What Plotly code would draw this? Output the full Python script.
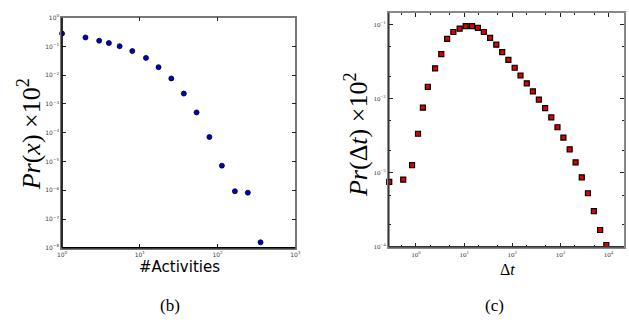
import plotly.graph_objects as go

# Panel (b): activity distribution
act_x = [1, 2.0, 3.0, 4.0, 5.5, 8.0, 12.0, 17.4, 25.4, 36.8, 53.7, 78.5, 113.7, 167, 245, 357]
act_y = [0.28, 0.205, 0.158, 0.131, 0.102, 0.069, 0.040, 0.019, 0.0077, 0.0023,
         5.1e-4, 7.1e-5, 7.2e-6, 9.3e-7, 8.3e-7, 1.56e-8]

# Panel (c): inter-event time distribution
dt_x = [0.278, 0.543, 0.828, 1.10, 1.39, 1.76, 2.49, 3.35, 4.43, 5.97, 8.06, 10.8, 14.6,
        19.3, 25.6, 34.6, 46.5, 61.6, 82.9, 112, 148, 200, 268, 356, 481, 646, 868,
        1152, 1555, 2061, 2773, 3725, 4940, 6670, 8980]
dt_y = [7.55e-4, 8.09e-4, 1.27e-3, 3.36e-3, 7.55e-3, 0.0144, 0.0256, 0.0399, 0.0641,
        0.0792, 0.0878, 0.0950, 0.0950, 0.0900, 0.0792, 0.0661, 0.0534, 0.0425, 0.0333,
        0.0261, 0.0205, 0.0161, 0.0125, 0.0097, 0.00745, 0.00557, 0.00411, 0.00298,
        0.00207, 0.00138, 8.67e-4, 5.29e-4, 3.04e-4, 1.69e-4, 1.06e-4]

# tick labels
b_x_exp = [0, 1, 2, 3]
b_y_exp = [0, -1, -2, -3, -4, -5, -6, -7, -8]
c_x_exp = [0, 1, 2, 3, 4]
c_y_exp = [-1, -2, -3, -4]


def pow_labels(exps):
    return [10.0 ** e for e in exps], [
        "10<sup>%s</sup>" % (str(e).replace("-", "\u2212")) for e in exps]


W, H = 629, 325
fig = go.Figure()

fig.add_trace(go.Scatter(x=act_x, y=act_y, mode="markers", xaxis="x", yaxis="y",
                         marker=dict(symbol="circle", size=5, color="#0000c8",
                                     line=dict(color="black", width=0.8)),
                         showlegend=False, cliponaxis=False))
fig.add_trace(go.Scatter(x=dt_x, y=dt_y, mode="markers", xaxis="x2", yaxis="y2",
                         marker=dict(symbol="square", size=5, color="#e00000",
                                     line=dict(color="black", width=1.2)),
                         showlegend=False, cliponaxis=False))

tickfont_b = dict(family="DejaVu Sans", size=6, color="#444")
tickfont_c = dict(family="Liberation Serif", size=7, color="#444")

bxv, bxt = pow_labels(b_x_exp)
byv, byt = pow_labels(b_y_exp)
cxv, cxt = pow_labels(c_x_exp)
cyv, cyt = pow_labels(c_y_exp)

fig.update_layout(
    width=W, height=H,
    margin=dict(l=0, r=0, t=0, b=0),
    paper_bgcolor="white", plot_bgcolor="white",
    xaxis=dict(type="log", domain=[58 / W, 295 / W], range=[0, 3],
               tickvals=bxv, ticktext=bxt, showgrid=False, zeroline=False,
               showline=True, linecolor="#777", linewidth=1.5, mirror="ticks",
               ticks="inside", ticklen=4, tickcolor="#222", tickfont=tickfont_b,
               anchor="y"),
    yaxis=dict(type="log", domain=[1 - 250 / H, 1 - 14 / H], range=[-8, 0],
               tickvals=byv, ticktext=byt, showgrid=False, zeroline=False,
               showline=True, linecolor="#777", linewidth=1.5, mirror="ticks",
               ticks="inside", ticklen=4, tickcolor="#222", tickfont=tickfont_b,
               anchor="x"),
    xaxis2=dict(type="log", domain=[390 / W, 1.0], range=[-0.565, 4.32],
                tickvals=cxv, ticktext=cxt, showgrid=False, zeroline=False,
                showline=True, linecolor="#888", linewidth=1.5, mirror="allticks",
                ticks="inside", ticklen=4, tickcolor="#222", tickfont=tickfont_c,
                minor=dict(ticks="inside", ticklen=2, tickcolor="#222", showgrid=False,
                           dtick="D2"),
                anchor="y2"),
    yaxis2=dict(type="log", domain=[1 - 249 / H, 1 - 9 / H], range=[-4, -0.842],
                tickvals=cyv, ticktext=cyt, showgrid=False, zeroline=False,
                showline=True, linecolor="#888", linewidth=1.5, mirror="allticks",
                ticks="inside", ticklen=4, tickcolor="#222", tickfont=tickfont_c,
                minor=dict(ticks="inside", ticklen=2, tickcolor="#222", showgrid=False,
                           dtick="D2"),
                anchor="x2"),
)

# dark left/bottom spines
fig.add_shape(type="line", xref="x domain", yref="y domain", x0=0, x1=0, y0=0, y1=1,
              line=dict(color="black", width=1.5), layer="above")
fig.add_shape(type="line", xref="x domain", yref="y domain", x0=0, x1=1, y0=0, y1=0,
              line=dict(color="black", width=1.5), layer="above")
fig.add_shape(type="line", xref="x2 domain", yref="y2 domain", x0=0, x1=0, y0=0, y1=1,
              line=dict(color="#333", width=1.5), layer="above")
fig.add_shape(type="line", xref="x2 domain", yref="y2 domain", x0=0, x1=1, y0=0, y1=0,
              line=dict(color="#333", width=1.5), layer="above")

serif = "Liberation Serif"
annos = [
    dict(x=25 / W, y=1 - 134 / H, text="<i>Pr</i>(<i>x</i>) ×10<sup>2</sup>",
         textangle=-90, font=dict(family=serif, size=26, color="black")),
    dict(x=357 / W, y=1 - 134 / H, text="<i>Pr</i>(Δ<i>t</i>) ×10<sup>2</sup>",
         textangle=-90, font=dict(family=serif, size=26, color="black")),
    dict(x=177 / W, y=1 - 270 / H, text="#Activities",
         font=dict(family="DejaVu Sans", size=15, color="black")),
    dict(x=511 / W, y=1 - 272 / H, text="Δ<i>t</i>",
         font=dict(family=serif, size=16, color="black")),
    dict(x=168 / W, y=1 - 309 / H, text="(b)",
         font=dict(family=serif, size=17, color="black")),
    dict(x=497 / W, y=1 - 309 / H, text="(c)",
         font=dict(family=serif, size=17, color="black")),
]
for a in annos:
    fig.add_annotation(xref="paper", yref="paper", showarrow=False,
                       xanchor="center", yanchor="middle", **a)

fig.write_html("out.html", config={"displayModeBar": False},
               post_script="document.body.style.margin='0px';document.body.style.overflow='hidden';")
